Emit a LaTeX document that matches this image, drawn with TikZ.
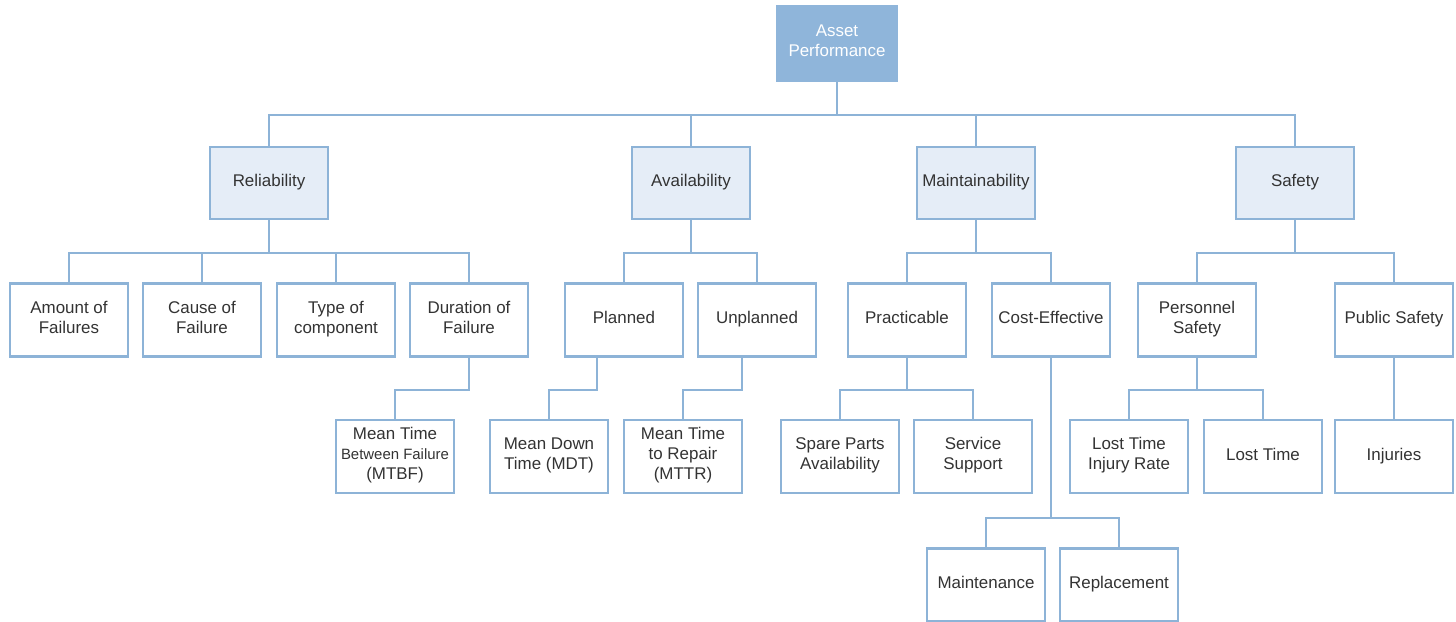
\documentclass[tikz,border=0pt]{standalone}
\usepackage{fontspec}
\setmainfont{Liberation Sans}
\begin{document}
\begin{tikzpicture}[x=1bp,y=-1bp,
  every node/.style={font=\fontsize{17}{20}\selectfont},
  box/.style={draw=edgeblue,line width=2.6bp,fill=white,text=textgray,
    minimum width=118bp,minimum height=73bp,inner sep=2bp,align=center,
    execute at begin node=\strut,execute at end node=\strut},
  rootbox/.style={box,fill=rootblue,draw=rootblue,text=white,
    minimum width=120bp,minimum height=75bp},
  topicbox/.style={box,fill=topicfill,minimum height=72bp},
  conn/.style={draw=edgeblue,line width=2.6bp}]
\definecolor{edgeblue}{HTML}{8DB3D7}
\definecolor{rootblue}{HTML}{8FB5DA}
\definecolor{topicfill}{HTML}{E5EDF7}
\definecolor{textgray}{HTML}{333333}
\useasboundingbox (0,0) rectangle (1456,622);

% bus lines (vertical positions)
\coordinate (bus0) at (0,115);
\coordinate (bus1) at (0,253);
\coordinate (bus2) at (0,390);
\coordinate (bus3) at (0,518);

% root
\node[rootbox] (root) at (837,43.5) {Asset\\Performance};

% topics
\node[topicbox] (rel) at (269,183) {Reliability};
\node[topicbox] (ava) at (691,183) {Availability};
\node[topicbox] (mai) at (976,183) {Maintainability};
\node[topicbox] (saf) at (1295,183) {Safety};

% second level
\node[box] (amount) at (69,320) {Amount of\\Failures};
\node[box] (cause) at (202,320) {Cause of\\Failure};
\node[box] (type) at (336,320) {Type of\\component};
\node[box] (dur) at (469,320) {Duration of\\Failure};
\node[box] (plan) at (624,320) {Planned};
\node[box] (unplan) at (757,320) {Unplanned};
\node[box] (pract) at (907,320) {Practicable};
\node[box] (cost) at (1051,320) {Cost-Effective};
\node[box] (pers) at (1197,320) {Personnel\\Safety};
\node[box] (pub) at (1394,320) {Public Safety};

% third level
\node[box] (mtbf) at (395,456.5) {Mean Time\\{\fontsize{15}{18}\selectfont Between Failure}\\(MTBF)};
\node[box] (mdt) at (549,456.5) {Mean Down\\Time (MDT)};
\node[box] (mttr) at (683,456.5) {Mean Time\\to Repair\\(MTTR)};
\node[box] (spare) at (840,456.5) {Spare Parts\\Availability};
\node[box] (serv) at (973,456.5) {Service\\Support};
\node[box] (ltir) at (1129,456.5) {Lost Time\\Injury Rate};
\node[box] (lost) at (1263,456.5) {Lost Time};
\node[box] (inj) at (1394,456.5) {Injuries};

% fourth level
\node[box] (maint) at (986,585) {Maintenance};
\node[box] (repl) at (1119,585) {Replacement};

% root to topics
\draw[conn] (root.south) -- (root.south |- bus0);
\draw[conn] (rel.north) |- (root.south |- bus0) -| (saf.north);
\draw[conn] (ava.north) -- (ava.north |- bus0);
\draw[conn] (mai.north) -- (mai.north |- bus0);

% reliability
\draw[conn] (rel.south) -- (rel.south |- bus1);
\draw[conn] (amount.north) |- (rel.south |- bus1) -| (dur.north);
\draw[conn] (cause.north) -- (cause.north |- bus1);
\draw[conn] (type.north) -- (type.north |- bus1);
\draw[conn] (dur.south) |- (mtbf.north |- bus2) -- (mtbf.north);

% availability
\draw[conn] (ava.south) -- (ava.south |- bus1);
\draw[conn] (plan.north) |- (ava.south |- bus1) -| (unplan.north);
\coordinate (planout) at (597,356.5);
\coordinate (unplanout) at (742,356.5);
\draw[conn] (planout) |- (mdt.north |- bus2) -- (mdt.north);
\draw[conn] (unplanout) |- (mttr.north |- bus2) -- (mttr.north);

% maintainability
\draw[conn] (mai.south) -- (mai.south |- bus1);
\draw[conn] (pract.north) |- (mai.south |- bus1) -| (cost.north);
\draw[conn] (pract.south) -- (pract.south |- bus2);
\draw[conn] (spare.north) |- (pract.south |- bus2) -| (serv.north);
\draw[conn] (cost.south) -- (cost.south |- bus3);
\draw[conn] (maint.north) |- (cost.south |- bus3) -| (repl.north);

% safety
\draw[conn] (saf.south) -- (saf.south |- bus1);
\draw[conn] (pers.north) |- (saf.south |- bus1) -| (pub.north);
\draw[conn] (pers.south) -- (pers.south |- bus2);
\draw[conn] (ltir.north) |- (pers.south |- bus2) -| (lost.north);
\draw[conn] (pub.south) -- (inj.north);
\end{tikzpicture}
\end{document}
